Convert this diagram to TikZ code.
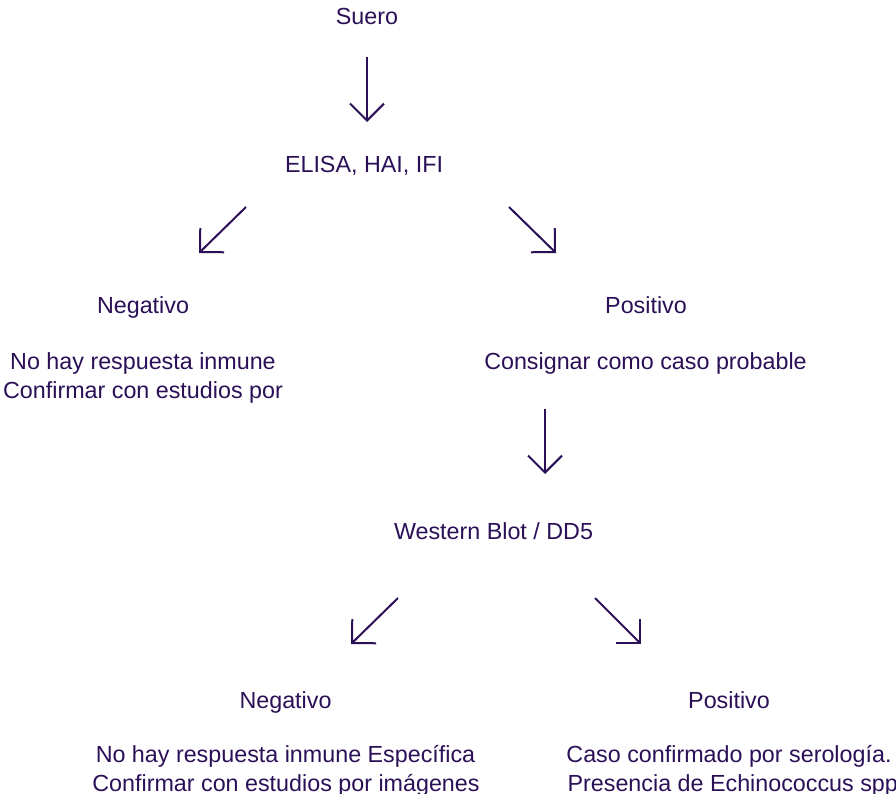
\documentclass[tikz,border=0pt]{standalone}
\usepackage{fontspec}
\setmainfont{Liberation Sans}
\usetikzlibrary{arrows.meta}
\definecolor{ink}{HTML}{2B1058}
\begin{document}
\begin{tikzpicture}[x=1pt,y=-1pt,
  lbl/.style={text=ink,inner sep=0pt,anchor=base,
    font=\fontsize{23.3}{29}\selectfont},
  flow/.style={draw=ink,line width=2pt,
    -{Straight Barb[angle=90:24pt,line width=2pt]}}]
\useasboundingbox[fill=white] (0,0) rectangle (896,794);

% top: serum sample and first screening
\node[lbl] (suero) at (367,25) {Suero};
\node[lbl] (elisa) at (364,173) {ELISA, HAI, IFI};

% first-level results
\node[lbl] (neg1) at (143,313) {Negativo};
\node[lbl] (neg1a) at (143,369) {No hay respuesta inmune};
\node[lbl] (neg1b) at (143,398) {Confirmar con estudios por};
\node[lbl] (pos1) at (646,313) {Positivo};
\node[lbl] (pos1a) at (645.5,369) {Consignar como caso probable};

% confirmation test
\node[lbl] (wb) at (493.5,539) {Western Blot / DD5};

% second-level results
\node[lbl] (neg2) at (285.5,708) {Negativo};
\node[lbl] (neg2a) at (285.5,762) {No hay respuesta inmune Específica};
\node[lbl] (neg2b) at (286,791) {Confirmar con estudios por imágenes};
\node[lbl] (pos2) at (729,708) {Positivo};
\node[lbl] (pos2a) at (729,762) {Caso confirmado por serología.};
\node[lbl] (pos2b) at (736,791) {Presencia de Echinococcus spp.};

% arrow end points
\coordinate (a1s) at (367,57);  \coordinate (a1e) at (367,122);
\coordinate (a2s) at (246,207); \coordinate (a2e) at (199,253);
\coordinate (a3s) at (509,207); \coordinate (a3e) at (556,253);
\coordinate (a4s) at (545,409); \coordinate (a4e) at (545,474);
\coordinate (a5s) at (398,598); \coordinate (a5e) at (351,644);
\coordinate (a6s) at (595,598); \coordinate (a6e) at (641,644);

\draw[flow] (a1s) -- (a1e);
\draw[flow] (a2s) -- (a2e);
\draw[flow] (a3s) -- (a3e);
\draw[flow] (a4s) -- (a4e);
\draw[flow] (a5s) -- (a5e);
\draw[flow] (a6s) -- (a6e);
\end{tikzpicture}
\end{document}
